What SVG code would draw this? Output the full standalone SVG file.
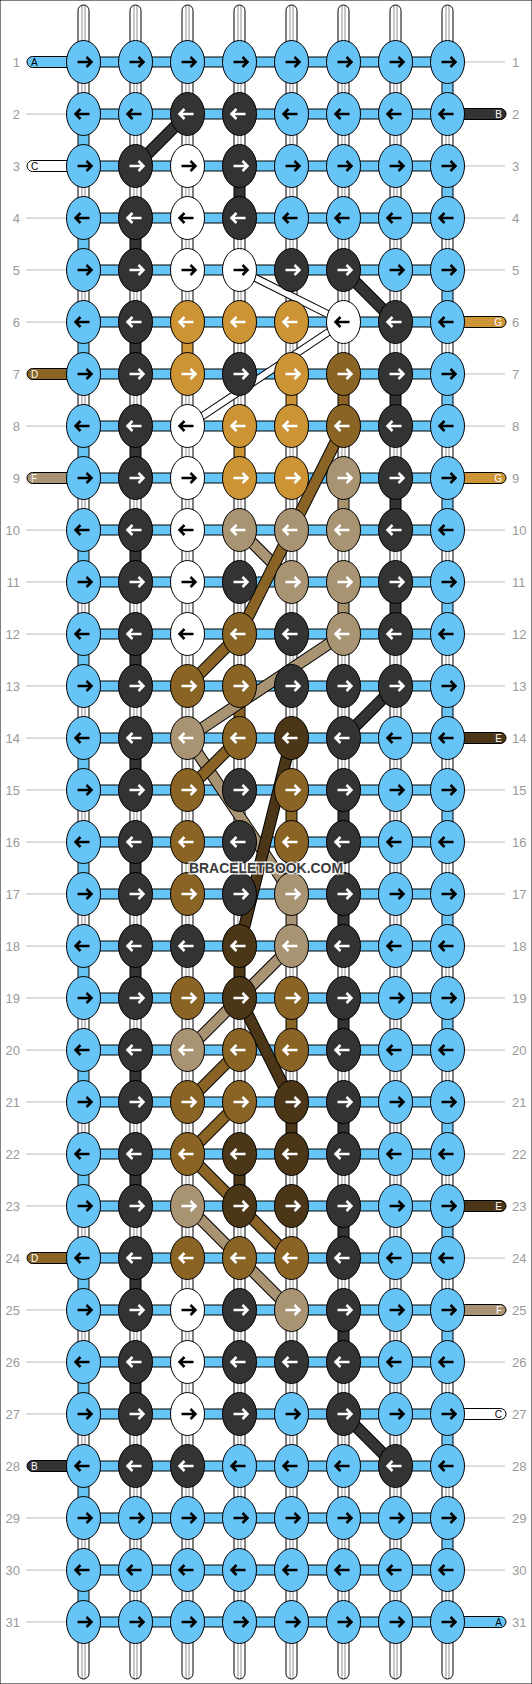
<svg xmlns="http://www.w3.org/2000/svg" xmlns:xlink="http://www.w3.org/1999/xlink" width="532" height="1684" viewBox="0 0 532 1684">
<style>
text{font-family:"Liberation Sans",Arial,sans-serif}
.num{font-size:13px;fill:#999}
.gl{stroke:#bbb;stroke-width:1}
rect,ellipse{stroke:#000;stroke-width:1}
.B{fill:#66c4f6}.K{fill:#333}.W{fill:#fff}.O{fill:#cc9434}.M{fill:#8a6424}.T{fill:#a89373}.D{fill:#4b3717}
.s{fill:url(#wg)}
.k{stroke:#000}.w{stroke:#fff}
.o{stroke:#000;stroke-width:12}
.ow{stroke:#000;stroke-width:8}
.cK{stroke:#333;stroke-width:10}.cM{stroke:#8a6424;stroke-width:10}.cT{stroke:#a89373;stroke-width:10}.cD{stroke:#4b3717;stroke-width:10}.cW{stroke:#fff;stroke-width:6}
.sl{font-size:10px}
.lw{fill:#fff}.lk{fill:#000}
</style>
<defs>
<linearGradient id="wg" x1="0" x2="1" y1="0" y2="0">
<stop offset="0" stop-color="#fff"/><stop offset=".3" stop-color="#fff"/><stop offset=".3" stop-color="#c8c8c8"/><stop offset=".42" stop-color="#c8c8c8"/><stop offset=".42" stop-color="#fff"/><stop offset=".58" stop-color="#fff"/><stop offset=".58" stop-color="#c8c8c8"/><stop offset=".7" stop-color="#c8c8c8"/><stop offset=".7" stop-color="#fff"/><stop offset="1" stop-color="#fff"/>
</linearGradient>
<path id="R" d="M-6,0H8M3,-5L8,0L3,5" fill="none" stroke-width="2.5"/>
<path id="L" d="M6,0H-8M-3,-5L-8,0L-3,5" fill="none" stroke-width="2.5"/>
</defs>
<rect x="0" y="0" width="532" height="1684" fill="#fff" stroke="none"/>

<g id="row-labels">
<text class="num" x="20" y="66.5" text-anchor="end">1</text><text class="num" x="512" y="66.5">1</text>
<text class="num" x="20" y="118.5" text-anchor="end">2</text><text class="num" x="512" y="118.5">2</text>
<text class="num" x="20" y="170.5" text-anchor="end">3</text><text class="num" x="512" y="170.5">3</text>
<text class="num" x="20" y="222.5" text-anchor="end">4</text><text class="num" x="512" y="222.5">4</text>
<text class="num" x="20" y="274.5" text-anchor="end">5</text><text class="num" x="512" y="274.5">5</text>
<text class="num" x="20" y="326.5" text-anchor="end">6</text><text class="num" x="512" y="326.5">6</text>
<text class="num" x="20" y="378.5" text-anchor="end">7</text><text class="num" x="512" y="378.5">7</text>
<text class="num" x="20" y="430.5" text-anchor="end">8</text><text class="num" x="512" y="430.5">8</text>
<text class="num" x="20" y="482.5" text-anchor="end">9</text><text class="num" x="512" y="482.5">9</text>
<text class="num" x="20" y="534.5" text-anchor="end">10</text><text class="num" x="512" y="534.5">10</text>
<text class="num" x="20" y="586.5" text-anchor="end">11</text><text class="num" x="512" y="586.5">11</text>
<text class="num" x="20" y="638.5" text-anchor="end">12</text><text class="num" x="512" y="638.5">12</text>
<text class="num" x="20" y="690.5" text-anchor="end">13</text><text class="num" x="512" y="690.5">13</text>
<text class="num" x="20" y="742.5" text-anchor="end">14</text><text class="num" x="512" y="742.5">14</text>
<text class="num" x="20" y="794.5" text-anchor="end">15</text><text class="num" x="512" y="794.5">15</text>
<text class="num" x="20" y="846.5" text-anchor="end">16</text><text class="num" x="512" y="846.5">16</text>
<text class="num" x="20" y="898.5" text-anchor="end">17</text><text class="num" x="512" y="898.5">17</text>
<text class="num" x="20" y="950.5" text-anchor="end">18</text><text class="num" x="512" y="950.5">18</text>
<text class="num" x="20" y="1002.5" text-anchor="end">19</text><text class="num" x="512" y="1002.5">19</text>
<text class="num" x="20" y="1054.5" text-anchor="end">20</text><text class="num" x="512" y="1054.5">20</text>
<text class="num" x="20" y="1106.5" text-anchor="end">21</text><text class="num" x="512" y="1106.5">21</text>
<text class="num" x="20" y="1158.5" text-anchor="end">22</text><text class="num" x="512" y="1158.5">22</text>
<text class="num" x="20" y="1210.5" text-anchor="end">23</text><text class="num" x="512" y="1210.5">23</text>
<text class="num" x="20" y="1262.5" text-anchor="end">24</text><text class="num" x="512" y="1262.5">24</text>
<text class="num" x="20" y="1314.5" text-anchor="end">25</text><text class="num" x="512" y="1314.5">25</text>
<text class="num" x="20" y="1366.5" text-anchor="end">26</text><text class="num" x="512" y="1366.5">26</text>
<text class="num" x="20" y="1418.5" text-anchor="end">27</text><text class="num" x="512" y="1418.5">27</text>
<text class="num" x="20" y="1470.5" text-anchor="end">28</text><text class="num" x="512" y="1470.5">28</text>
<text class="num" x="20" y="1522.5" text-anchor="end">29</text><text class="num" x="512" y="1522.5">29</text>
<text class="num" x="20" y="1574.5" text-anchor="end">30</text><text class="num" x="512" y="1574.5">30</text>
<text class="num" x="20" y="1626.5" text-anchor="end">31</text><text class="num" x="512" y="1626.5">31</text>
</g>
<g id="guide-lines" class="gl">
<line x1="26" x2="66" y1="114" y2="114"/><line x1="26" x2="66" y1="218" y2="218"/><line x1="26" x2="66" y1="270" y2="270"/><line x1="26" x2="66" y1="322" y2="322"/><line x1="26" x2="66" y1="426" y2="426"/><line x1="26" x2="66" y1="530" y2="530"/><line x1="26" x2="66" y1="582" y2="582"/><line x1="26" x2="66" y1="634" y2="634"/><line x1="26" x2="66" y1="686" y2="686"/><line x1="26" x2="66" y1="738" y2="738"/><line x1="26" x2="66" y1="790" y2="790"/><line x1="26" x2="66" y1="842" y2="842"/><line x1="26" x2="66" y1="894" y2="894"/><line x1="26" x2="66" y1="946" y2="946"/><line x1="26" x2="66" y1="998" y2="998"/><line x1="26" x2="66" y1="1050" y2="1050"/><line x1="26" x2="66" y1="1102" y2="1102"/><line x1="26" x2="66" y1="1154" y2="1154"/><line x1="26" x2="66" y1="1206" y2="1206"/><line x1="26" x2="66" y1="1310" y2="1310"/><line x1="26" x2="66" y1="1362" y2="1362"/><line x1="26" x2="66" y1="1414" y2="1414"/><line x1="26" x2="66" y1="1518" y2="1518"/><line x1="26" x2="66" y1="1570" y2="1570"/><line x1="26" x2="66" y1="1622" y2="1622"/>
<line x1="465" x2="505" y1="62" y2="62"/><line x1="465" x2="505" y1="166" y2="166"/><line x1="465" x2="505" y1="218" y2="218"/><line x1="465" x2="505" y1="270" y2="270"/><line x1="465" x2="505" y1="374" y2="374"/><line x1="465" x2="505" y1="426" y2="426"/><line x1="465" x2="505" y1="530" y2="530"/><line x1="465" x2="505" y1="582" y2="582"/><line x1="465" x2="505" y1="634" y2="634"/><line x1="465" x2="505" y1="686" y2="686"/><line x1="465" x2="505" y1="790" y2="790"/><line x1="465" x2="505" y1="842" y2="842"/><line x1="465" x2="505" y1="894" y2="894"/><line x1="465" x2="505" y1="946" y2="946"/><line x1="465" x2="505" y1="998" y2="998"/><line x1="465" x2="505" y1="1050" y2="1050"/><line x1="465" x2="505" y1="1102" y2="1102"/><line x1="465" x2="505" y1="1154" y2="1154"/><line x1="465" x2="505" y1="1258" y2="1258"/><line x1="465" x2="505" y1="1362" y2="1362"/><line x1="465" x2="505" y1="1466" y2="1466"/><line x1="465" x2="505" y1="1518" y2="1518"/><line x1="465" x2="505" y1="1570" y2="1570"/>
</g>

<g id="connectors">
<g id="strand-ends">
<rect class="s" x="78" y="5" width="11" height="70" rx="5.5"/><rect class="s" x="130" y="5" width="11" height="70" rx="5.5"/><rect class="s" x="182" y="5" width="11" height="70" rx="5.5"/><rect class="s" x="234" y="5" width="11" height="70" rx="5.5"/><rect class="s" x="286" y="5" width="11" height="70" rx="5.5"/><rect class="s" x="338" y="5" width="11" height="70" rx="5.5"/><rect class="s" x="390" y="5" width="11" height="70" rx="5.5"/><rect class="s" x="442" y="5" width="11" height="70" rx="5.5"/>
<rect class="s" x="78" y="1609" width="11" height="70" rx="5.5"/><rect class="s" x="130" y="1609" width="11" height="70" rx="5.5"/><rect class="s" x="182" y="1609" width="11" height="70" rx="5.5"/><rect class="s" x="234" y="1609" width="11" height="70" rx="5.5"/><rect class="s" x="286" y="1609" width="11" height="70" rx="5.5"/><rect class="s" x="338" y="1609" width="11" height="70" rx="5.5"/><rect class="s" x="390" y="1609" width="11" height="70" rx="5.5"/><rect class="s" x="442" y="1609" width="11" height="70" rx="5.5"/>
</g>
<g id="vertical-strands">
<rect class="s" x="78" y="62" width="11" height="52"/><rect class="s" x="130" y="62" width="11" height="52"/><rect class="s" x="182" y="62" width="11" height="52"/><rect class="s" x="234" y="62" width="11" height="52"/><rect class="s" x="286" y="62" width="11" height="52"/><rect class="s" x="338" y="62" width="11" height="52"/><rect class="s" x="390" y="62" width="11" height="52"/><rect class="B" x="442" y="62" width="11" height="52"/>
<rect class="B" x="78" y="114" width="11" height="52"/><rect class="s" x="130" y="114" width="11" height="52"/><rect class="s" x="182" y="114" width="11" height="52"/><rect class="s" x="234" y="114" width="11" height="52"/><rect class="s" x="286" y="114" width="11" height="52"/><rect class="s" x="338" y="114" width="11" height="52"/><rect class="s" x="390" y="114" width="11" height="52"/><rect class="s" x="442" y="114" width="11" height="52"/>
<rect class="s" x="78" y="166" width="11" height="52"/><rect class="s" x="130" y="166" width="11" height="52"/><rect class="s" x="182" y="166" width="11" height="52"/><rect class="K" x="234" y="166" width="11" height="52"/><rect class="s" x="286" y="166" width="11" height="52"/><rect class="s" x="338" y="166" width="11" height="52"/><rect class="s" x="390" y="166" width="11" height="52"/><rect class="B" x="442" y="166" width="11" height="52"/>
<rect class="B" x="78" y="218" width="11" height="52"/><rect class="K" x="130" y="218" width="11" height="52"/><rect class="s" x="182" y="218" width="11" height="52"/><rect class="s" x="234" y="218" width="11" height="52"/><rect class="s" x="286" y="218" width="11" height="52"/><rect class="s" x="338" y="218" width="11" height="52"/><rect class="s" x="390" y="218" width="11" height="52"/><rect class="s" x="442" y="218" width="11" height="52"/>
<rect class="s" x="78" y="270" width="11" height="52"/><rect class="s" x="130" y="270" width="11" height="52"/><rect class="s" x="182" y="270" width="11" height="52"/><rect class="s" x="234" y="270" width="11" height="52"/><rect class="s" x="286" y="270" width="11" height="52"/><rect class="s" x="338" y="270" width="11" height="52"/><rect class="s" x="390" y="270" width="11" height="52"/><rect class="B" x="442" y="270" width="11" height="52"/>
<rect class="B" x="78" y="322" width="11" height="52"/><rect class="K" x="130" y="322" width="11" height="52"/><rect class="O" x="182" y="322" width="11" height="52"/><rect class="s" x="234" y="322" width="11" height="52"/><rect class="s" x="286" y="322" width="11" height="52"/><rect class="s" x="338" y="322" width="11" height="52"/><rect class="s" x="390" y="322" width="11" height="52"/><rect class="s" x="442" y="322" width="11" height="52"/>
<rect class="s" x="78" y="374" width="11" height="52"/><rect class="s" x="130" y="374" width="11" height="52"/><rect class="s" x="182" y="374" width="11" height="52"/><rect class="s" x="234" y="374" width="11" height="52"/><rect class="O" x="286" y="374" width="11" height="52"/><rect class="M" x="338" y="374" width="11" height="52"/><rect class="K" x="390" y="374" width="11" height="52"/><rect class="B" x="442" y="374" width="11" height="52"/>
<rect class="B" x="78" y="426" width="11" height="52"/><rect class="K" x="130" y="426" width="11" height="52"/><rect class="s" x="182" y="426" width="11" height="52"/><rect class="O" x="234" y="426" width="11" height="52"/><rect class="s" x="286" y="426" width="11" height="52"/><rect class="s" x="338" y="426" width="11" height="52"/><rect class="s" x="390" y="426" width="11" height="52"/><rect class="s" x="442" y="426" width="11" height="52"/>
<rect class="s" x="78" y="478" width="11" height="52"/><rect class="s" x="130" y="478" width="11" height="52"/><rect class="s" x="182" y="478" width="11" height="52"/><rect class="s" x="234" y="478" width="11" height="52"/><rect class="s" x="286" y="478" width="11" height="52"/><rect class="T" x="338" y="478" width="11" height="52"/><rect class="K" x="390" y="478" width="11" height="52"/><rect class="B" x="442" y="478" width="11" height="52"/>
<rect class="B" x="78" y="530" width="11" height="52"/><rect class="K" x="130" y="530" width="11" height="52"/><rect class="s" x="182" y="530" width="11" height="52"/><rect class="s" x="234" y="530" width="11" height="52"/><rect class="s" x="286" y="530" width="11" height="52"/><rect class="s" x="338" y="530" width="11" height="52"/><rect class="s" x="390" y="530" width="11" height="52"/><rect class="s" x="442" y="530" width="11" height="52"/>
<rect class="s" x="78" y="582" width="11" height="52"/><rect class="s" x="130" y="582" width="11" height="52"/><rect class="s" x="182" y="582" width="11" height="52"/><rect class="s" x="234" y="582" width="11" height="52"/><rect class="s" x="286" y="582" width="11" height="52"/><rect class="T" x="338" y="582" width="11" height="52"/><rect class="K" x="390" y="582" width="11" height="52"/><rect class="B" x="442" y="582" width="11" height="52"/>
<rect class="B" x="78" y="634" width="11" height="52"/><rect class="K" x="130" y="634" width="11" height="52"/><rect class="s" x="182" y="634" width="11" height="52"/><rect class="s" x="234" y="634" width="11" height="52"/><rect class="s" x="286" y="634" width="11" height="52"/><rect class="s" x="338" y="634" width="11" height="52"/><rect class="s" x="390" y="634" width="11" height="52"/><rect class="s" x="442" y="634" width="11" height="52"/>
<rect class="s" x="78" y="686" width="11" height="52"/><rect class="s" x="130" y="686" width="11" height="52"/><rect class="s" x="182" y="686" width="11" height="52"/><rect class="M" x="234" y="686" width="11" height="52"/><rect class="s" x="286" y="686" width="11" height="52"/><rect class="s" x="338" y="686" width="11" height="52"/><rect class="s" x="390" y="686" width="11" height="52"/><rect class="B" x="442" y="686" width="11" height="52"/>
<rect class="B" x="78" y="738" width="11" height="52"/><rect class="K" x="130" y="738" width="11" height="52"/><rect class="s" x="182" y="738" width="11" height="52"/><rect class="s" x="234" y="738" width="11" height="52"/><rect class="s" x="286" y="738" width="11" height="52"/><rect class="s" x="338" y="738" width="11" height="52"/><rect class="s" x="390" y="738" width="11" height="52"/><rect class="s" x="442" y="738" width="11" height="52"/>
<rect class="s" x="78" y="790" width="11" height="52"/><rect class="s" x="130" y="790" width="11" height="52"/><rect class="s" x="182" y="790" width="11" height="52"/><rect class="s" x="234" y="790" width="11" height="52"/><rect class="M" x="286" y="790" width="11" height="52"/><rect class="K" x="338" y="790" width="11" height="52"/><rect class="s" x="390" y="790" width="11" height="52"/><rect class="B" x="442" y="790" width="11" height="52"/>
<rect class="B" x="78" y="842" width="11" height="52"/><rect class="K" x="130" y="842" width="11" height="52"/><rect class="s" x="182" y="842" width="11" height="52"/><rect class="s" x="234" y="842" width="11" height="52"/><rect class="s" x="286" y="842" width="11" height="52"/><rect class="s" x="338" y="842" width="11" height="52"/><rect class="s" x="390" y="842" width="11" height="52"/><rect class="s" x="442" y="842" width="11" height="52"/>
<rect class="s" x="78" y="894" width="11" height="52"/><rect class="s" x="130" y="894" width="11" height="52"/><rect class="s" x="182" y="894" width="11" height="52"/><rect class="s" x="234" y="894" width="11" height="52"/><rect class="T" x="286" y="894" width="11" height="52"/><rect class="K" x="338" y="894" width="11" height="52"/><rect class="s" x="390" y="894" width="11" height="52"/><rect class="B" x="442" y="894" width="11" height="52"/>
<rect class="B" x="78" y="946" width="11" height="52"/><rect class="K" x="130" y="946" width="11" height="52"/><rect class="s" x="182" y="946" width="11" height="52"/><rect class="D" x="234" y="946" width="11" height="52"/><rect class="s" x="286" y="946" width="11" height="52"/><rect class="s" x="338" y="946" width="11" height="52"/><rect class="s" x="390" y="946" width="11" height="52"/><rect class="s" x="442" y="946" width="11" height="52"/>
<rect class="s" x="78" y="998" width="11" height="52"/><rect class="s" x="130" y="998" width="11" height="52"/><rect class="s" x="182" y="998" width="11" height="52"/><rect class="s" x="234" y="998" width="11" height="52"/><rect class="M" x="286" y="998" width="11" height="52"/><rect class="K" x="338" y="998" width="11" height="52"/><rect class="s" x="390" y="998" width="11" height="52"/><rect class="B" x="442" y="998" width="11" height="52"/>
<rect class="B" x="78" y="1050" width="11" height="52"/><rect class="K" x="130" y="1050" width="11" height="52"/><rect class="s" x="182" y="1050" width="11" height="52"/><rect class="s" x="234" y="1050" width="11" height="52"/><rect class="s" x="286" y="1050" width="11" height="52"/><rect class="s" x="338" y="1050" width="11" height="52"/><rect class="s" x="390" y="1050" width="11" height="52"/><rect class="s" x="442" y="1050" width="11" height="52"/>
<rect class="s" x="78" y="1102" width="11" height="52"/><rect class="s" x="130" y="1102" width="11" height="52"/><rect class="s" x="182" y="1102" width="11" height="52"/><rect class="s" x="234" y="1102" width="11" height="52"/><rect class="D" x="286" y="1102" width="11" height="52"/><rect class="K" x="338" y="1102" width="11" height="52"/><rect class="s" x="390" y="1102" width="11" height="52"/><rect class="B" x="442" y="1102" width="11" height="52"/>
<rect class="B" x="78" y="1154" width="11" height="52"/><rect class="K" x="130" y="1154" width="11" height="52"/><rect class="s" x="182" y="1154" width="11" height="52"/><rect class="D" x="234" y="1154" width="11" height="52"/><rect class="s" x="286" y="1154" width="11" height="52"/><rect class="s" x="338" y="1154" width="11" height="52"/><rect class="s" x="390" y="1154" width="11" height="52"/><rect class="s" x="442" y="1154" width="11" height="52"/>
<rect class="s" x="78" y="1206" width="11" height="52"/><rect class="s" x="130" y="1206" width="11" height="52"/><rect class="s" x="182" y="1206" width="11" height="52"/><rect class="s" x="234" y="1206" width="11" height="52"/><rect class="s" x="286" y="1206" width="11" height="52"/><rect class="K" x="338" y="1206" width="11" height="52"/><rect class="s" x="390" y="1206" width="11" height="52"/><rect class="B" x="442" y="1206" width="11" height="52"/>
<rect class="B" x="78" y="1258" width="11" height="52"/><rect class="K" x="130" y="1258" width="11" height="52"/><rect class="s" x="182" y="1258" width="11" height="52"/><rect class="s" x="234" y="1258" width="11" height="52"/><rect class="s" x="286" y="1258" width="11" height="52"/><rect class="s" x="338" y="1258" width="11" height="52"/><rect class="s" x="390" y="1258" width="11" height="52"/><rect class="s" x="442" y="1258" width="11" height="52"/>
<rect class="s" x="78" y="1310" width="11" height="52"/><rect class="s" x="130" y="1310" width="11" height="52"/><rect class="s" x="182" y="1310" width="11" height="52"/><rect class="s" x="234" y="1310" width="11" height="52"/><rect class="s" x="286" y="1310" width="11" height="52"/><rect class="K" x="338" y="1310" width="11" height="52"/><rect class="s" x="390" y="1310" width="11" height="52"/><rect class="B" x="442" y="1310" width="11" height="52"/>
<rect class="B" x="78" y="1362" width="11" height="52"/><rect class="K" x="130" y="1362" width="11" height="52"/><rect class="s" x="182" y="1362" width="11" height="52"/><rect class="s" x="234" y="1362" width="11" height="52"/><rect class="s" x="286" y="1362" width="11" height="52"/><rect class="s" x="338" y="1362" width="11" height="52"/><rect class="s" x="390" y="1362" width="11" height="52"/><rect class="s" x="442" y="1362" width="11" height="52"/>
<rect class="s" x="78" y="1414" width="11" height="52"/><rect class="s" x="130" y="1414" width="11" height="52"/><rect class="s" x="182" y="1414" width="11" height="52"/><rect class="s" x="234" y="1414" width="11" height="52"/><rect class="s" x="286" y="1414" width="11" height="52"/><rect class="s" x="338" y="1414" width="11" height="52"/><rect class="s" x="390" y="1414" width="11" height="52"/><rect class="B" x="442" y="1414" width="11" height="52"/>
<rect class="B" x="78" y="1466" width="11" height="52"/><rect class="s" x="130" y="1466" width="11" height="52"/><rect class="s" x="182" y="1466" width="11" height="52"/><rect class="s" x="234" y="1466" width="11" height="52"/><rect class="s" x="286" y="1466" width="11" height="52"/><rect class="s" x="338" y="1466" width="11" height="52"/><rect class="s" x="390" y="1466" width="11" height="52"/><rect class="s" x="442" y="1466" width="11" height="52"/>
<rect class="s" x="78" y="1518" width="11" height="52"/><rect class="s" x="130" y="1518" width="11" height="52"/><rect class="s" x="182" y="1518" width="11" height="52"/><rect class="s" x="234" y="1518" width="11" height="52"/><rect class="s" x="286" y="1518" width="11" height="52"/><rect class="s" x="338" y="1518" width="11" height="52"/><rect class="s" x="390" y="1518" width="11" height="52"/><rect class="B" x="442" y="1518" width="11" height="52"/>
<rect class="B" x="78" y="1570" width="11" height="52"/><rect class="s" x="130" y="1570" width="11" height="52"/><rect class="s" x="182" y="1570" width="11" height="52"/><rect class="s" x="234" y="1570" width="11" height="52"/><rect class="s" x="286" y="1570" width="11" height="52"/><rect class="s" x="338" y="1570" width="11" height="52"/><rect class="s" x="390" y="1570" width="11" height="52"/><rect class="s" x="442" y="1570" width="11" height="52"/>
</g>
<g id="horizontal-strands">
<rect class="B" x="83.5" y="57" width="364" height="10"/><rect class="B" x="83.5" y="109" width="364" height="10"/><rect class="B" x="83.5" y="161" width="364" height="10"/><rect class="B" x="83.5" y="213" width="364" height="10"/><rect class="B" x="83.5" y="265" width="364" height="10"/><rect class="B" x="83.5" y="317" width="364" height="10"/><rect class="B" x="83.5" y="369" width="364" height="10"/><rect class="B" x="83.5" y="421" width="364" height="10"/><rect class="B" x="83.5" y="473" width="364" height="10"/><rect class="B" x="83.5" y="525" width="364" height="10"/><rect class="B" x="83.5" y="577" width="364" height="10"/><rect class="B" x="83.5" y="629" width="364" height="10"/><rect class="B" x="83.5" y="681" width="364" height="10"/><rect class="B" x="83.5" y="733" width="364" height="10"/><rect class="B" x="83.5" y="785" width="364" height="10"/><rect class="B" x="83.5" y="837" width="364" height="10"/><rect class="B" x="83.5" y="889" width="364" height="10"/><rect class="B" x="83.5" y="941" width="364" height="10"/><rect class="B" x="83.5" y="993" width="364" height="10"/><rect class="B" x="83.5" y="1045" width="364" height="10"/><rect class="B" x="83.5" y="1097" width="364" height="10"/><rect class="B" x="83.5" y="1149" width="364" height="10"/><rect class="B" x="83.5" y="1201" width="364" height="10"/><rect class="B" x="83.5" y="1253" width="364" height="10"/><rect class="B" x="83.5" y="1305" width="364" height="10"/><rect class="B" x="83.5" y="1357" width="364" height="10"/><rect class="B" x="83.5" y="1409" width="364" height="10"/><rect class="B" x="83.5" y="1461" width="364" height="10"/><rect class="B" x="83.5" y="1513" width="364" height="10"/><rect class="B" x="83.5" y="1565" width="364" height="10"/><rect class="B" x="83.5" y="1617" width="364" height="10"/>
</g>
<g id="thread-ends">
<rect class="B" x="27" y="56.5" width="50" height="11" rx="5.5"/><text class="sl lk" x="31" y="65.5">A</text>
<rect class="W" x="27" y="160.5" width="50" height="11" rx="5.5"/><text class="sl lk" x="31" y="169.5">C</text>
<rect class="M" x="27" y="368.5" width="50" height="11" rx="5.5"/><text class="sl lw" x="31" y="377.5">D</text>
<rect class="T" x="27" y="472.5" width="50" height="11" rx="5.5"/><text class="sl lw" x="31" y="481.5">F</text>
<rect class="M" x="27" y="1252.5" width="50" height="11" rx="5.5"/><text class="sl lw" x="31" y="1261.5">D</text>
<rect class="K" x="27" y="1460.5" width="50" height="11" rx="5.5"/><text class="sl lw" x="31" y="1469.5">B</text>
<rect class="K" x="455" y="108.5" width="51" height="11" rx="5.5"/><text class="sl lw" x="502" y="117.5" text-anchor="end">B</text>
<rect class="O" x="455" y="316.5" width="51" height="11" rx="5.5"/><text class="sl lw" x="502" y="325.5" text-anchor="end">G</text>
<rect class="O" x="455" y="472.5" width="51" height="11" rx="5.5"/><text class="sl lw" x="502" y="481.5" text-anchor="end">G</text>
<rect class="D" x="455" y="732.5" width="51" height="11" rx="5.5"/><text class="sl lw" x="502" y="741.5" text-anchor="end">E</text>
<rect class="D" x="455" y="1200.5" width="51" height="11" rx="5.5"/><text class="sl lw" x="502" y="1209.5" text-anchor="end">E</text>
<rect class="T" x="455" y="1304.5" width="51" height="11" rx="5.5"/><text class="sl lw" x="502" y="1313.5" text-anchor="end">F</text>
<rect class="W" x="455" y="1408.5" width="51" height="11" rx="5.5"/><text class="sl lk" x="502" y="1417.5" text-anchor="end">C</text>
<rect class="B" x="455" y="1616.5" width="51" height="11" rx="5.5"/><text class="sl lk" x="502" y="1625.5" text-anchor="end">A</text>
</g>
<g id="diagonals">
<line class="o" x1="239.5" y1="530" x2="291.5" y2="582"/><line class="cT" x1="239.5" y1="530" x2="291.5" y2="582"/>
<line class="o" x1="343.5" y1="634" x2="187.5" y2="738"/><line class="cT" x1="343.5" y1="634" x2="187.5" y2="738"/>
<line class="o" x1="187.5" y1="738" x2="291.5" y2="894"/><line class="cT" x1="187.5" y1="738" x2="291.5" y2="894"/>
<line class="o" x1="291.5" y1="946" x2="187.5" y2="1050"/><line class="cT" x1="291.5" y1="946" x2="187.5" y2="1050"/>
<line class="o" x1="187.5" y1="1206" x2="291.5" y2="1310"/><line class="cT" x1="187.5" y1="1206" x2="291.5" y2="1310"/>
<line class="o" x1="343.5" y1="426" x2="239.5" y2="634"/><line class="cM" x1="343.5" y1="426" x2="239.5" y2="634"/>
<line class="o" x1="239.5" y1="634" x2="187.5" y2="686"/><line class="cM" x1="239.5" y1="634" x2="187.5" y2="686"/>
<line class="o" x1="239.5" y1="738" x2="187.5" y2="790"/><line class="cM" x1="239.5" y1="738" x2="187.5" y2="790"/>
<line class="o" x1="239.5" y1="1050" x2="187.5" y2="1102"/><line class="cM" x1="239.5" y1="1050" x2="187.5" y2="1102"/>
<line class="o" x1="239.5" y1="1102" x2="187.5" y2="1154"/><line class="cM" x1="239.5" y1="1102" x2="187.5" y2="1154"/>
<line class="o" x1="187.5" y1="1154" x2="291.5" y2="1258"/><line class="cM" x1="187.5" y1="1154" x2="291.5" y2="1258"/>
<line class="o" x1="291.5" y1="738" x2="239.5" y2="946"/><line class="cD" x1="291.5" y1="738" x2="239.5" y2="946"/>
<line class="o" x1="239.5" y1="998" x2="291.5" y2="1102"/><line class="cD" x1="239.5" y1="998" x2="291.5" y2="1102"/>
<line class="o" x1="187.5" y1="114" x2="135.5" y2="166"/><line class="cK" x1="187.5" y1="114" x2="135.5" y2="166"/>
<line class="o" x1="343.5" y1="270" x2="395.5" y2="322"/><line class="cK" x1="343.5" y1="270" x2="395.5" y2="322"/>
<line class="o" x1="395.5" y1="686" x2="343.5" y2="738"/><line class="cK" x1="395.5" y1="686" x2="343.5" y2="738"/>
<line class="o" x1="343.5" y1="1414" x2="395.5" y2="1466"/><line class="cK" x1="343.5" y1="1414" x2="395.5" y2="1466"/>
<line class="ow" x1="239.5" y1="270" x2="343.5" y2="322"/><line class="cW" x1="239.5" y1="270" x2="343.5" y2="322"/>
<line class="ow" x1="343.5" y1="322" x2="187.5" y2="426"/><line class="cW" x1="343.5" y1="322" x2="187.5" y2="426"/>
</g>
</g>

<g id="nodes">
<g id="n1-1"><ellipse class="B" cx="83.5" cy="62" rx="17" ry="21.5"/><use href="#R" x="83.5" y="62" class="k"/></g>
<g id="n1-2"><ellipse class="B" cx="135.5" cy="62" rx="17" ry="21.5"/><use href="#R" x="135.5" y="62" class="k"/></g>
<g id="n1-3"><ellipse class="B" cx="187.5" cy="62" rx="17" ry="21.5"/><use href="#R" x="187.5" y="62" class="k"/></g>
<g id="n1-4"><ellipse class="B" cx="239.5" cy="62" rx="17" ry="21.5"/><use href="#R" x="239.5" y="62" class="k"/></g>
<g id="n1-5"><ellipse class="B" cx="291.5" cy="62" rx="17" ry="21.5"/><use href="#R" x="291.5" y="62" class="k"/></g>
<g id="n1-6"><ellipse class="B" cx="343.5" cy="62" rx="17" ry="21.5"/><use href="#R" x="343.5" y="62" class="k"/></g>
<g id="n1-7"><ellipse class="B" cx="395.5" cy="62" rx="17" ry="21.5"/><use href="#R" x="395.5" y="62" class="k"/></g>
<g id="n1-8"><ellipse class="B" cx="447.5" cy="62" rx="17" ry="21.5"/><use href="#R" x="447.5" y="62" class="k"/></g>
<g id="n2-1"><ellipse class="B" cx="83.5" cy="114" rx="17" ry="21.5"/><use href="#L" x="83.5" y="114" class="k"/></g>
<g id="n2-2"><ellipse class="B" cx="135.5" cy="114" rx="17" ry="21.5"/><use href="#L" x="135.5" y="114" class="k"/></g>
<g id="n2-3"><ellipse class="K" cx="187.5" cy="114" rx="17" ry="21.5"/><use href="#L" x="187.5" y="114" class="w"/></g>
<g id="n2-4"><ellipse class="K" cx="239.5" cy="114" rx="17" ry="21.5"/><use href="#L" x="239.5" y="114" class="w"/></g>
<g id="n2-5"><ellipse class="B" cx="291.5" cy="114" rx="17" ry="21.5"/><use href="#L" x="291.5" y="114" class="k"/></g>
<g id="n2-6"><ellipse class="B" cx="343.5" cy="114" rx="17" ry="21.5"/><use href="#L" x="343.5" y="114" class="k"/></g>
<g id="n2-7"><ellipse class="B" cx="395.5" cy="114" rx="17" ry="21.5"/><use href="#L" x="395.5" y="114" class="k"/></g>
<g id="n2-8"><ellipse class="B" cx="447.5" cy="114" rx="17" ry="21.5"/><use href="#L" x="447.5" y="114" class="k"/></g>
<g id="n3-1"><ellipse class="B" cx="83.5" cy="166" rx="17" ry="21.5"/><use href="#R" x="83.5" y="166" class="k"/></g>
<g id="n3-2"><ellipse class="K" cx="135.5" cy="166" rx="17" ry="21.5"/><use href="#R" x="135.5" y="166" class="w"/></g>
<g id="n3-3"><ellipse class="W" cx="187.5" cy="166" rx="17" ry="21.5"/><use href="#R" x="187.5" y="166" class="k"/></g>
<g id="n3-4"><ellipse class="K" cx="239.5" cy="166" rx="17" ry="21.5"/><use href="#R" x="239.5" y="166" class="w"/></g>
<g id="n3-5"><ellipse class="B" cx="291.5" cy="166" rx="17" ry="21.5"/><use href="#R" x="291.5" y="166" class="k"/></g>
<g id="n3-6"><ellipse class="B" cx="343.5" cy="166" rx="17" ry="21.5"/><use href="#R" x="343.5" y="166" class="k"/></g>
<g id="n3-7"><ellipse class="B" cx="395.5" cy="166" rx="17" ry="21.5"/><use href="#R" x="395.5" y="166" class="k"/></g>
<g id="n3-8"><ellipse class="B" cx="447.5" cy="166" rx="17" ry="21.5"/><use href="#R" x="447.5" y="166" class="k"/></g>
<g id="n4-1"><ellipse class="B" cx="83.5" cy="218" rx="17" ry="21.5"/><use href="#L" x="83.5" y="218" class="k"/></g>
<g id="n4-2"><ellipse class="K" cx="135.5" cy="218" rx="17" ry="21.5"/><use href="#L" x="135.5" y="218" class="w"/></g>
<g id="n4-3"><ellipse class="W" cx="187.5" cy="218" rx="17" ry="21.5"/><use href="#L" x="187.5" y="218" class="k"/></g>
<g id="n4-4"><ellipse class="K" cx="239.5" cy="218" rx="17" ry="21.5"/><use href="#L" x="239.5" y="218" class="w"/></g>
<g id="n4-5"><ellipse class="B" cx="291.5" cy="218" rx="17" ry="21.5"/><use href="#L" x="291.5" y="218" class="k"/></g>
<g id="n4-6"><ellipse class="B" cx="343.5" cy="218" rx="17" ry="21.5"/><use href="#L" x="343.5" y="218" class="k"/></g>
<g id="n4-7"><ellipse class="B" cx="395.5" cy="218" rx="17" ry="21.5"/><use href="#L" x="395.5" y="218" class="k"/></g>
<g id="n4-8"><ellipse class="B" cx="447.5" cy="218" rx="17" ry="21.5"/><use href="#L" x="447.5" y="218" class="k"/></g>
<g id="n5-1"><ellipse class="B" cx="83.5" cy="270" rx="17" ry="21.5"/><use href="#R" x="83.5" y="270" class="k"/></g>
<g id="n5-2"><ellipse class="K" cx="135.5" cy="270" rx="17" ry="21.5"/><use href="#R" x="135.5" y="270" class="w"/></g>
<g id="n5-3"><ellipse class="W" cx="187.5" cy="270" rx="17" ry="21.5"/><use href="#R" x="187.5" y="270" class="k"/></g>
<g id="n5-4"><ellipse class="W" cx="239.5" cy="270" rx="17" ry="21.5"/><use href="#R" x="239.5" y="270" class="k"/></g>
<g id="n5-5"><ellipse class="K" cx="291.5" cy="270" rx="17" ry="21.5"/><use href="#R" x="291.5" y="270" class="w"/></g>
<g id="n5-6"><ellipse class="K" cx="343.5" cy="270" rx="17" ry="21.5"/><use href="#R" x="343.5" y="270" class="w"/></g>
<g id="n5-7"><ellipse class="B" cx="395.5" cy="270" rx="17" ry="21.5"/><use href="#R" x="395.5" y="270" class="k"/></g>
<g id="n5-8"><ellipse class="B" cx="447.5" cy="270" rx="17" ry="21.5"/><use href="#R" x="447.5" y="270" class="k"/></g>
<g id="n6-1"><ellipse class="B" cx="83.5" cy="322" rx="17" ry="21.5"/><use href="#L" x="83.5" y="322" class="k"/></g>
<g id="n6-2"><ellipse class="K" cx="135.5" cy="322" rx="17" ry="21.5"/><use href="#L" x="135.5" y="322" class="w"/></g>
<g id="n6-3"><ellipse class="O" cx="187.5" cy="322" rx="17" ry="21.5"/><use href="#L" x="187.5" y="322" class="w"/></g>
<g id="n6-4"><ellipse class="O" cx="239.5" cy="322" rx="17" ry="21.5"/><use href="#L" x="239.5" y="322" class="w"/></g>
<g id="n6-5"><ellipse class="O" cx="291.5" cy="322" rx="17" ry="21.5"/><use href="#L" x="291.5" y="322" class="w"/></g>
<g id="n6-6"><ellipse class="W" cx="343.5" cy="322" rx="17" ry="21.5"/><use href="#L" x="343.5" y="322" class="k"/></g>
<g id="n6-7"><ellipse class="K" cx="395.5" cy="322" rx="17" ry="21.5"/><use href="#L" x="395.5" y="322" class="w"/></g>
<g id="n6-8"><ellipse class="B" cx="447.5" cy="322" rx="17" ry="21.5"/><use href="#L" x="447.5" y="322" class="k"/></g>
<g id="n7-1"><ellipse class="B" cx="83.5" cy="374" rx="17" ry="21.5"/><use href="#R" x="83.5" y="374" class="k"/></g>
<g id="n7-2"><ellipse class="K" cx="135.5" cy="374" rx="17" ry="21.5"/><use href="#R" x="135.5" y="374" class="w"/></g>
<g id="n7-3"><ellipse class="O" cx="187.5" cy="374" rx="17" ry="21.5"/><use href="#R" x="187.5" y="374" class="w"/></g>
<g id="n7-4"><ellipse class="K" cx="239.5" cy="374" rx="17" ry="21.5"/><use href="#R" x="239.5" y="374" class="w"/></g>
<g id="n7-5"><ellipse class="O" cx="291.5" cy="374" rx="17" ry="21.5"/><use href="#R" x="291.5" y="374" class="w"/></g>
<g id="n7-6"><ellipse class="M" cx="343.5" cy="374" rx="17" ry="21.5"/><use href="#R" x="343.5" y="374" class="w"/></g>
<g id="n7-7"><ellipse class="K" cx="395.5" cy="374" rx="17" ry="21.5"/><use href="#R" x="395.5" y="374" class="w"/></g>
<g id="n7-8"><ellipse class="B" cx="447.5" cy="374" rx="17" ry="21.5"/><use href="#R" x="447.5" y="374" class="k"/></g>
<g id="n8-1"><ellipse class="B" cx="83.5" cy="426" rx="17" ry="21.5"/><use href="#L" x="83.5" y="426" class="k"/></g>
<g id="n8-2"><ellipse class="K" cx="135.5" cy="426" rx="17" ry="21.5"/><use href="#L" x="135.5" y="426" class="w"/></g>
<g id="n8-3"><ellipse class="W" cx="187.5" cy="426" rx="17" ry="21.5"/><use href="#L" x="187.5" y="426" class="k"/></g>
<g id="n8-4"><ellipse class="O" cx="239.5" cy="426" rx="17" ry="21.5"/><use href="#L" x="239.5" y="426" class="w"/></g>
<g id="n8-5"><ellipse class="O" cx="291.5" cy="426" rx="17" ry="21.5"/><use href="#L" x="291.5" y="426" class="w"/></g>
<g id="n8-6"><ellipse class="M" cx="343.5" cy="426" rx="17" ry="21.5"/><use href="#L" x="343.5" y="426" class="w"/></g>
<g id="n8-7"><ellipse class="K" cx="395.5" cy="426" rx="17" ry="21.5"/><use href="#L" x="395.5" y="426" class="w"/></g>
<g id="n8-8"><ellipse class="B" cx="447.5" cy="426" rx="17" ry="21.5"/><use href="#L" x="447.5" y="426" class="k"/></g>
<g id="n9-1"><ellipse class="B" cx="83.5" cy="478" rx="17" ry="21.5"/><use href="#R" x="83.5" y="478" class="k"/></g>
<g id="n9-2"><ellipse class="K" cx="135.5" cy="478" rx="17" ry="21.5"/><use href="#R" x="135.5" y="478" class="w"/></g>
<g id="n9-3"><ellipse class="W" cx="187.5" cy="478" rx="17" ry="21.5"/><use href="#R" x="187.5" y="478" class="k"/></g>
<g id="n9-4"><ellipse class="O" cx="239.5" cy="478" rx="17" ry="21.5"/><use href="#R" x="239.5" y="478" class="w"/></g>
<g id="n9-5"><ellipse class="O" cx="291.5" cy="478" rx="17" ry="21.5"/><use href="#R" x="291.5" y="478" class="w"/></g>
<g id="n9-6"><ellipse class="T" cx="343.5" cy="478" rx="17" ry="21.5"/><use href="#R" x="343.5" y="478" class="w"/></g>
<g id="n9-7"><ellipse class="K" cx="395.5" cy="478" rx="17" ry="21.5"/><use href="#R" x="395.5" y="478" class="w"/></g>
<g id="n9-8"><ellipse class="B" cx="447.5" cy="478" rx="17" ry="21.5"/><use href="#R" x="447.5" y="478" class="k"/></g>
<g id="n10-1"><ellipse class="B" cx="83.5" cy="530" rx="17" ry="21.5"/><use href="#L" x="83.5" y="530" class="k"/></g>
<g id="n10-2"><ellipse class="K" cx="135.5" cy="530" rx="17" ry="21.5"/><use href="#L" x="135.5" y="530" class="w"/></g>
<g id="n10-3"><ellipse class="W" cx="187.5" cy="530" rx="17" ry="21.5"/><use href="#L" x="187.5" y="530" class="k"/></g>
<g id="n10-4"><ellipse class="T" cx="239.5" cy="530" rx="17" ry="21.5"/><use href="#L" x="239.5" y="530" class="w"/></g>
<g id="n10-5"><ellipse class="T" cx="291.5" cy="530" rx="17" ry="21.5"/><use href="#L" x="291.5" y="530" class="w"/></g>
<g id="n10-6"><ellipse class="T" cx="343.5" cy="530" rx="17" ry="21.5"/><use href="#L" x="343.5" y="530" class="w"/></g>
<g id="n10-7"><ellipse class="K" cx="395.5" cy="530" rx="17" ry="21.5"/><use href="#L" x="395.5" y="530" class="w"/></g>
<g id="n10-8"><ellipse class="B" cx="447.5" cy="530" rx="17" ry="21.5"/><use href="#L" x="447.5" y="530" class="k"/></g>
<g id="n11-1"><ellipse class="B" cx="83.5" cy="582" rx="17" ry="21.5"/><use href="#R" x="83.5" y="582" class="k"/></g>
<g id="n11-2"><ellipse class="K" cx="135.5" cy="582" rx="17" ry="21.5"/><use href="#R" x="135.5" y="582" class="w"/></g>
<g id="n11-3"><ellipse class="W" cx="187.5" cy="582" rx="17" ry="21.5"/><use href="#R" x="187.5" y="582" class="k"/></g>
<g id="n11-4"><ellipse class="K" cx="239.5" cy="582" rx="17" ry="21.5"/><use href="#R" x="239.5" y="582" class="w"/></g>
<g id="n11-5"><ellipse class="T" cx="291.5" cy="582" rx="17" ry="21.5"/><use href="#R" x="291.5" y="582" class="w"/></g>
<g id="n11-6"><ellipse class="T" cx="343.5" cy="582" rx="17" ry="21.5"/><use href="#R" x="343.5" y="582" class="w"/></g>
<g id="n11-7"><ellipse class="K" cx="395.5" cy="582" rx="17" ry="21.5"/><use href="#R" x="395.5" y="582" class="w"/></g>
<g id="n11-8"><ellipse class="B" cx="447.5" cy="582" rx="17" ry="21.5"/><use href="#R" x="447.5" y="582" class="k"/></g>
<g id="n12-1"><ellipse class="B" cx="83.5" cy="634" rx="17" ry="21.5"/><use href="#L" x="83.5" y="634" class="k"/></g>
<g id="n12-2"><ellipse class="K" cx="135.5" cy="634" rx="17" ry="21.5"/><use href="#L" x="135.5" y="634" class="w"/></g>
<g id="n12-3"><ellipse class="W" cx="187.5" cy="634" rx="17" ry="21.5"/><use href="#L" x="187.5" y="634" class="k"/></g>
<g id="n12-4"><ellipse class="M" cx="239.5" cy="634" rx="17" ry="21.5"/><use href="#L" x="239.5" y="634" class="w"/></g>
<g id="n12-5"><ellipse class="K" cx="291.5" cy="634" rx="17" ry="21.5"/><use href="#L" x="291.5" y="634" class="w"/></g>
<g id="n12-6"><ellipse class="T" cx="343.5" cy="634" rx="17" ry="21.5"/><use href="#L" x="343.5" y="634" class="w"/></g>
<g id="n12-7"><ellipse class="K" cx="395.5" cy="634" rx="17" ry="21.5"/><use href="#L" x="395.5" y="634" class="w"/></g>
<g id="n12-8"><ellipse class="B" cx="447.5" cy="634" rx="17" ry="21.5"/><use href="#L" x="447.5" y="634" class="k"/></g>
<g id="n13-1"><ellipse class="B" cx="83.5" cy="686" rx="17" ry="21.5"/><use href="#R" x="83.5" y="686" class="k"/></g>
<g id="n13-2"><ellipse class="K" cx="135.5" cy="686" rx="17" ry="21.5"/><use href="#R" x="135.5" y="686" class="w"/></g>
<g id="n13-3"><ellipse class="M" cx="187.5" cy="686" rx="17" ry="21.5"/><use href="#R" x="187.5" y="686" class="w"/></g>
<g id="n13-4"><ellipse class="M" cx="239.5" cy="686" rx="17" ry="21.5"/><use href="#R" x="239.5" y="686" class="w"/></g>
<g id="n13-5"><ellipse class="K" cx="291.5" cy="686" rx="17" ry="21.5"/><use href="#R" x="291.5" y="686" class="w"/></g>
<g id="n13-6"><ellipse class="K" cx="343.5" cy="686" rx="17" ry="21.5"/><use href="#R" x="343.5" y="686" class="w"/></g>
<g id="n13-7"><ellipse class="K" cx="395.5" cy="686" rx="17" ry="21.5"/><use href="#R" x="395.5" y="686" class="w"/></g>
<g id="n13-8"><ellipse class="B" cx="447.5" cy="686" rx="17" ry="21.5"/><use href="#R" x="447.5" y="686" class="k"/></g>
<g id="n14-1"><ellipse class="B" cx="83.5" cy="738" rx="17" ry="21.5"/><use href="#L" x="83.5" y="738" class="k"/></g>
<g id="n14-2"><ellipse class="K" cx="135.5" cy="738" rx="17" ry="21.5"/><use href="#L" x="135.5" y="738" class="w"/></g>
<g id="n14-3"><ellipse class="T" cx="187.5" cy="738" rx="17" ry="21.5"/><use href="#L" x="187.5" y="738" class="w"/></g>
<g id="n14-4"><ellipse class="M" cx="239.5" cy="738" rx="17" ry="21.5"/><use href="#L" x="239.5" y="738" class="w"/></g>
<g id="n14-5"><ellipse class="D" cx="291.5" cy="738" rx="17" ry="21.5"/><use href="#L" x="291.5" y="738" class="w"/></g>
<g id="n14-6"><ellipse class="K" cx="343.5" cy="738" rx="17" ry="21.5"/><use href="#L" x="343.5" y="738" class="w"/></g>
<g id="n14-7"><ellipse class="B" cx="395.5" cy="738" rx="17" ry="21.5"/><use href="#L" x="395.5" y="738" class="k"/></g>
<g id="n14-8"><ellipse class="B" cx="447.5" cy="738" rx="17" ry="21.5"/><use href="#L" x="447.5" y="738" class="k"/></g>
<g id="n15-1"><ellipse class="B" cx="83.5" cy="790" rx="17" ry="21.5"/><use href="#R" x="83.5" y="790" class="k"/></g>
<g id="n15-2"><ellipse class="K" cx="135.5" cy="790" rx="17" ry="21.5"/><use href="#R" x="135.5" y="790" class="w"/></g>
<g id="n15-3"><ellipse class="M" cx="187.5" cy="790" rx="17" ry="21.5"/><use href="#R" x="187.5" y="790" class="w"/></g>
<g id="n15-4"><ellipse class="K" cx="239.5" cy="790" rx="17" ry="21.5"/><use href="#R" x="239.5" y="790" class="w"/></g>
<g id="n15-5"><ellipse class="M" cx="291.5" cy="790" rx="17" ry="21.5"/><use href="#R" x="291.5" y="790" class="w"/></g>
<g id="n15-6"><ellipse class="K" cx="343.5" cy="790" rx="17" ry="21.5"/><use href="#R" x="343.5" y="790" class="w"/></g>
<g id="n15-7"><ellipse class="B" cx="395.5" cy="790" rx="17" ry="21.5"/><use href="#R" x="395.5" y="790" class="k"/></g>
<g id="n15-8"><ellipse class="B" cx="447.5" cy="790" rx="17" ry="21.5"/><use href="#R" x="447.5" y="790" class="k"/></g>
<g id="n16-1"><ellipse class="B" cx="83.5" cy="842" rx="17" ry="21.5"/><use href="#L" x="83.5" y="842" class="k"/></g>
<g id="n16-2"><ellipse class="K" cx="135.5" cy="842" rx="17" ry="21.5"/><use href="#L" x="135.5" y="842" class="w"/></g>
<g id="n16-3"><ellipse class="M" cx="187.5" cy="842" rx="17" ry="21.5"/><use href="#L" x="187.5" y="842" class="w"/></g>
<g id="n16-4"><ellipse class="K" cx="239.5" cy="842" rx="17" ry="21.5"/><use href="#L" x="239.5" y="842" class="w"/></g>
<g id="n16-5"><ellipse class="M" cx="291.5" cy="842" rx="17" ry="21.5"/><use href="#L" x="291.5" y="842" class="w"/></g>
<g id="n16-6"><ellipse class="K" cx="343.5" cy="842" rx="17" ry="21.5"/><use href="#L" x="343.5" y="842" class="w"/></g>
<g id="n16-7"><ellipse class="B" cx="395.5" cy="842" rx="17" ry="21.5"/><use href="#L" x="395.5" y="842" class="k"/></g>
<g id="n16-8"><ellipse class="B" cx="447.5" cy="842" rx="17" ry="21.5"/><use href="#L" x="447.5" y="842" class="k"/></g>
<g id="n17-1"><ellipse class="B" cx="83.5" cy="894" rx="17" ry="21.5"/><use href="#R" x="83.5" y="894" class="k"/></g>
<g id="n17-2"><ellipse class="K" cx="135.5" cy="894" rx="17" ry="21.5"/><use href="#R" x="135.5" y="894" class="w"/></g>
<g id="n17-3"><ellipse class="M" cx="187.5" cy="894" rx="17" ry="21.5"/><use href="#R" x="187.5" y="894" class="w"/></g>
<g id="n17-4"><ellipse class="K" cx="239.5" cy="894" rx="17" ry="21.5"/><use href="#R" x="239.5" y="894" class="w"/></g>
<g id="n17-5"><ellipse class="T" cx="291.5" cy="894" rx="17" ry="21.5"/><use href="#R" x="291.5" y="894" class="w"/></g>
<g id="n17-6"><ellipse class="K" cx="343.5" cy="894" rx="17" ry="21.5"/><use href="#R" x="343.5" y="894" class="w"/></g>
<g id="n17-7"><ellipse class="B" cx="395.5" cy="894" rx="17" ry="21.5"/><use href="#R" x="395.5" y="894" class="k"/></g>
<g id="n17-8"><ellipse class="B" cx="447.5" cy="894" rx="17" ry="21.5"/><use href="#R" x="447.5" y="894" class="k"/></g>
<g id="n18-1"><ellipse class="B" cx="83.5" cy="946" rx="17" ry="21.5"/><use href="#L" x="83.5" y="946" class="k"/></g>
<g id="n18-2"><ellipse class="K" cx="135.5" cy="946" rx="17" ry="21.5"/><use href="#L" x="135.5" y="946" class="w"/></g>
<g id="n18-3"><ellipse class="K" cx="187.5" cy="946" rx="17" ry="21.5"/><use href="#L" x="187.5" y="946" class="w"/></g>
<g id="n18-4"><ellipse class="D" cx="239.5" cy="946" rx="17" ry="21.5"/><use href="#L" x="239.5" y="946" class="w"/></g>
<g id="n18-5"><ellipse class="T" cx="291.5" cy="946" rx="17" ry="21.5"/><use href="#L" x="291.5" y="946" class="w"/></g>
<g id="n18-6"><ellipse class="K" cx="343.5" cy="946" rx="17" ry="21.5"/><use href="#L" x="343.5" y="946" class="w"/></g>
<g id="n18-7"><ellipse class="B" cx="395.5" cy="946" rx="17" ry="21.5"/><use href="#L" x="395.5" y="946" class="k"/></g>
<g id="n18-8"><ellipse class="B" cx="447.5" cy="946" rx="17" ry="21.5"/><use href="#L" x="447.5" y="946" class="k"/></g>
<g id="n19-1"><ellipse class="B" cx="83.5" cy="998" rx="17" ry="21.5"/><use href="#R" x="83.5" y="998" class="k"/></g>
<g id="n19-2"><ellipse class="K" cx="135.5" cy="998" rx="17" ry="21.5"/><use href="#R" x="135.5" y="998" class="w"/></g>
<g id="n19-3"><ellipse class="M" cx="187.5" cy="998" rx="17" ry="21.5"/><use href="#R" x="187.5" y="998" class="w"/></g>
<g id="n19-4"><ellipse class="D" cx="239.5" cy="998" rx="17" ry="21.5"/><use href="#R" x="239.5" y="998" class="w"/></g>
<g id="n19-5"><ellipse class="M" cx="291.5" cy="998" rx="17" ry="21.5"/><use href="#R" x="291.5" y="998" class="w"/></g>
<g id="n19-6"><ellipse class="K" cx="343.5" cy="998" rx="17" ry="21.5"/><use href="#R" x="343.5" y="998" class="w"/></g>
<g id="n19-7"><ellipse class="B" cx="395.5" cy="998" rx="17" ry="21.5"/><use href="#R" x="395.5" y="998" class="k"/></g>
<g id="n19-8"><ellipse class="B" cx="447.5" cy="998" rx="17" ry="21.5"/><use href="#R" x="447.5" y="998" class="k"/></g>
<g id="n20-1"><ellipse class="B" cx="83.5" cy="1050" rx="17" ry="21.5"/><use href="#L" x="83.5" y="1050" class="k"/></g>
<g id="n20-2"><ellipse class="K" cx="135.5" cy="1050" rx="17" ry="21.5"/><use href="#L" x="135.5" y="1050" class="w"/></g>
<g id="n20-3"><ellipse class="T" cx="187.5" cy="1050" rx="17" ry="21.5"/><use href="#L" x="187.5" y="1050" class="w"/></g>
<g id="n20-4"><ellipse class="M" cx="239.5" cy="1050" rx="17" ry="21.5"/><use href="#L" x="239.5" y="1050" class="w"/></g>
<g id="n20-5"><ellipse class="M" cx="291.5" cy="1050" rx="17" ry="21.5"/><use href="#L" x="291.5" y="1050" class="w"/></g>
<g id="n20-6"><ellipse class="K" cx="343.5" cy="1050" rx="17" ry="21.5"/><use href="#L" x="343.5" y="1050" class="w"/></g>
<g id="n20-7"><ellipse class="B" cx="395.5" cy="1050" rx="17" ry="21.5"/><use href="#L" x="395.5" y="1050" class="k"/></g>
<g id="n20-8"><ellipse class="B" cx="447.5" cy="1050" rx="17" ry="21.5"/><use href="#L" x="447.5" y="1050" class="k"/></g>
<g id="n21-1"><ellipse class="B" cx="83.5" cy="1102" rx="17" ry="21.5"/><use href="#R" x="83.5" y="1102" class="k"/></g>
<g id="n21-2"><ellipse class="K" cx="135.5" cy="1102" rx="17" ry="21.5"/><use href="#R" x="135.5" y="1102" class="w"/></g>
<g id="n21-3"><ellipse class="M" cx="187.5" cy="1102" rx="17" ry="21.5"/><use href="#R" x="187.5" y="1102" class="w"/></g>
<g id="n21-4"><ellipse class="M" cx="239.5" cy="1102" rx="17" ry="21.5"/><use href="#R" x="239.5" y="1102" class="w"/></g>
<g id="n21-5"><ellipse class="D" cx="291.5" cy="1102" rx="17" ry="21.5"/><use href="#R" x="291.5" y="1102" class="w"/></g>
<g id="n21-6"><ellipse class="K" cx="343.5" cy="1102" rx="17" ry="21.5"/><use href="#R" x="343.5" y="1102" class="w"/></g>
<g id="n21-7"><ellipse class="B" cx="395.5" cy="1102" rx="17" ry="21.5"/><use href="#R" x="395.5" y="1102" class="k"/></g>
<g id="n21-8"><ellipse class="B" cx="447.5" cy="1102" rx="17" ry="21.5"/><use href="#R" x="447.5" y="1102" class="k"/></g>
<g id="n22-1"><ellipse class="B" cx="83.5" cy="1154" rx="17" ry="21.5"/><use href="#L" x="83.5" y="1154" class="k"/></g>
<g id="n22-2"><ellipse class="K" cx="135.5" cy="1154" rx="17" ry="21.5"/><use href="#L" x="135.5" y="1154" class="w"/></g>
<g id="n22-3"><ellipse class="M" cx="187.5" cy="1154" rx="17" ry="21.5"/><use href="#L" x="187.5" y="1154" class="w"/></g>
<g id="n22-4"><ellipse class="D" cx="239.5" cy="1154" rx="17" ry="21.5"/><use href="#L" x="239.5" y="1154" class="w"/></g>
<g id="n22-5"><ellipse class="D" cx="291.5" cy="1154" rx="17" ry="21.5"/><use href="#L" x="291.5" y="1154" class="w"/></g>
<g id="n22-6"><ellipse class="K" cx="343.5" cy="1154" rx="17" ry="21.5"/><use href="#L" x="343.5" y="1154" class="w"/></g>
<g id="n22-7"><ellipse class="B" cx="395.5" cy="1154" rx="17" ry="21.5"/><use href="#L" x="395.5" y="1154" class="k"/></g>
<g id="n22-8"><ellipse class="B" cx="447.5" cy="1154" rx="17" ry="21.5"/><use href="#L" x="447.5" y="1154" class="k"/></g>
<g id="n23-1"><ellipse class="B" cx="83.5" cy="1206" rx="17" ry="21.5"/><use href="#R" x="83.5" y="1206" class="k"/></g>
<g id="n23-2"><ellipse class="K" cx="135.5" cy="1206" rx="17" ry="21.5"/><use href="#R" x="135.5" y="1206" class="w"/></g>
<g id="n23-3"><ellipse class="T" cx="187.5" cy="1206" rx="17" ry="21.5"/><use href="#R" x="187.5" y="1206" class="w"/></g>
<g id="n23-4"><ellipse class="D" cx="239.5" cy="1206" rx="17" ry="21.5"/><use href="#R" x="239.5" y="1206" class="w"/></g>
<g id="n23-5"><ellipse class="D" cx="291.5" cy="1206" rx="17" ry="21.5"/><use href="#R" x="291.5" y="1206" class="w"/></g>
<g id="n23-6"><ellipse class="K" cx="343.5" cy="1206" rx="17" ry="21.5"/><use href="#R" x="343.5" y="1206" class="w"/></g>
<g id="n23-7"><ellipse class="B" cx="395.5" cy="1206" rx="17" ry="21.5"/><use href="#R" x="395.5" y="1206" class="k"/></g>
<g id="n23-8"><ellipse class="B" cx="447.5" cy="1206" rx="17" ry="21.5"/><use href="#R" x="447.5" y="1206" class="k"/></g>
<g id="n24-1"><ellipse class="B" cx="83.5" cy="1258" rx="17" ry="21.5"/><use href="#L" x="83.5" y="1258" class="k"/></g>
<g id="n24-2"><ellipse class="K" cx="135.5" cy="1258" rx="17" ry="21.5"/><use href="#L" x="135.5" y="1258" class="w"/></g>
<g id="n24-3"><ellipse class="M" cx="187.5" cy="1258" rx="17" ry="21.5"/><use href="#L" x="187.5" y="1258" class="w"/></g>
<g id="n24-4"><ellipse class="M" cx="239.5" cy="1258" rx="17" ry="21.5"/><use href="#L" x="239.5" y="1258" class="w"/></g>
<g id="n24-5"><ellipse class="M" cx="291.5" cy="1258" rx="17" ry="21.5"/><use href="#L" x="291.5" y="1258" class="w"/></g>
<g id="n24-6"><ellipse class="K" cx="343.5" cy="1258" rx="17" ry="21.5"/><use href="#L" x="343.5" y="1258" class="w"/></g>
<g id="n24-7"><ellipse class="B" cx="395.5" cy="1258" rx="17" ry="21.5"/><use href="#L" x="395.5" y="1258" class="k"/></g>
<g id="n24-8"><ellipse class="B" cx="447.5" cy="1258" rx="17" ry="21.5"/><use href="#L" x="447.5" y="1258" class="k"/></g>
<g id="n25-1"><ellipse class="B" cx="83.5" cy="1310" rx="17" ry="21.5"/><use href="#R" x="83.5" y="1310" class="k"/></g>
<g id="n25-2"><ellipse class="K" cx="135.5" cy="1310" rx="17" ry="21.5"/><use href="#R" x="135.5" y="1310" class="w"/></g>
<g id="n25-3"><ellipse class="W" cx="187.5" cy="1310" rx="17" ry="21.5"/><use href="#R" x="187.5" y="1310" class="k"/></g>
<g id="n25-4"><ellipse class="K" cx="239.5" cy="1310" rx="17" ry="21.5"/><use href="#R" x="239.5" y="1310" class="w"/></g>
<g id="n25-5"><ellipse class="T" cx="291.5" cy="1310" rx="17" ry="21.5"/><use href="#R" x="291.5" y="1310" class="w"/></g>
<g id="n25-6"><ellipse class="K" cx="343.5" cy="1310" rx="17" ry="21.5"/><use href="#R" x="343.5" y="1310" class="w"/></g>
<g id="n25-7"><ellipse class="B" cx="395.5" cy="1310" rx="17" ry="21.5"/><use href="#R" x="395.5" y="1310" class="k"/></g>
<g id="n25-8"><ellipse class="B" cx="447.5" cy="1310" rx="17" ry="21.5"/><use href="#R" x="447.5" y="1310" class="k"/></g>
<g id="n26-1"><ellipse class="B" cx="83.5" cy="1362" rx="17" ry="21.5"/><use href="#L" x="83.5" y="1362" class="k"/></g>
<g id="n26-2"><ellipse class="K" cx="135.5" cy="1362" rx="17" ry="21.5"/><use href="#L" x="135.5" y="1362" class="w"/></g>
<g id="n26-3"><ellipse class="W" cx="187.5" cy="1362" rx="17" ry="21.5"/><use href="#L" x="187.5" y="1362" class="k"/></g>
<g id="n26-4"><ellipse class="K" cx="239.5" cy="1362" rx="17" ry="21.5"/><use href="#L" x="239.5" y="1362" class="w"/></g>
<g id="n26-5"><ellipse class="K" cx="291.5" cy="1362" rx="17" ry="21.5"/><use href="#L" x="291.5" y="1362" class="w"/></g>
<g id="n26-6"><ellipse class="K" cx="343.5" cy="1362" rx="17" ry="21.5"/><use href="#L" x="343.5" y="1362" class="w"/></g>
<g id="n26-7"><ellipse class="B" cx="395.5" cy="1362" rx="17" ry="21.5"/><use href="#L" x="395.5" y="1362" class="k"/></g>
<g id="n26-8"><ellipse class="B" cx="447.5" cy="1362" rx="17" ry="21.5"/><use href="#L" x="447.5" y="1362" class="k"/></g>
<g id="n27-1"><ellipse class="B" cx="83.5" cy="1414" rx="17" ry="21.5"/><use href="#R" x="83.5" y="1414" class="k"/></g>
<g id="n27-2"><ellipse class="K" cx="135.5" cy="1414" rx="17" ry="21.5"/><use href="#R" x="135.5" y="1414" class="w"/></g>
<g id="n27-3"><ellipse class="W" cx="187.5" cy="1414" rx="17" ry="21.5"/><use href="#R" x="187.5" y="1414" class="k"/></g>
<g id="n27-4"><ellipse class="K" cx="239.5" cy="1414" rx="17" ry="21.5"/><use href="#R" x="239.5" y="1414" class="w"/></g>
<g id="n27-5"><ellipse class="B" cx="291.5" cy="1414" rx="17" ry="21.5"/><use href="#R" x="291.5" y="1414" class="k"/></g>
<g id="n27-6"><ellipse class="K" cx="343.5" cy="1414" rx="17" ry="21.5"/><use href="#R" x="343.5" y="1414" class="w"/></g>
<g id="n27-7"><ellipse class="B" cx="395.5" cy="1414" rx="17" ry="21.5"/><use href="#R" x="395.5" y="1414" class="k"/></g>
<g id="n27-8"><ellipse class="B" cx="447.5" cy="1414" rx="17" ry="21.5"/><use href="#R" x="447.5" y="1414" class="k"/></g>
<g id="n28-1"><ellipse class="B" cx="83.5" cy="1466" rx="17" ry="21.5"/><use href="#L" x="83.5" y="1466" class="k"/></g>
<g id="n28-2"><ellipse class="K" cx="135.5" cy="1466" rx="17" ry="21.5"/><use href="#L" x="135.5" y="1466" class="w"/></g>
<g id="n28-3"><ellipse class="K" cx="187.5" cy="1466" rx="17" ry="21.5"/><use href="#L" x="187.5" y="1466" class="w"/></g>
<g id="n28-4"><ellipse class="B" cx="239.5" cy="1466" rx="17" ry="21.5"/><use href="#L" x="239.5" y="1466" class="k"/></g>
<g id="n28-5"><ellipse class="B" cx="291.5" cy="1466" rx="17" ry="21.5"/><use href="#L" x="291.5" y="1466" class="k"/></g>
<g id="n28-6"><ellipse class="B" cx="343.5" cy="1466" rx="17" ry="21.5"/><use href="#L" x="343.5" y="1466" class="k"/></g>
<g id="n28-7"><ellipse class="K" cx="395.5" cy="1466" rx="17" ry="21.5"/><use href="#L" x="395.5" y="1466" class="w"/></g>
<g id="n28-8"><ellipse class="B" cx="447.5" cy="1466" rx="17" ry="21.5"/><use href="#L" x="447.5" y="1466" class="k"/></g>
<g id="n29-1"><ellipse class="B" cx="83.5" cy="1518" rx="17" ry="21.5"/><use href="#R" x="83.5" y="1518" class="k"/></g>
<g id="n29-2"><ellipse class="B" cx="135.5" cy="1518" rx="17" ry="21.5"/><use href="#R" x="135.5" y="1518" class="k"/></g>
<g id="n29-3"><ellipse class="B" cx="187.5" cy="1518" rx="17" ry="21.5"/><use href="#R" x="187.5" y="1518" class="k"/></g>
<g id="n29-4"><ellipse class="B" cx="239.5" cy="1518" rx="17" ry="21.5"/><use href="#R" x="239.5" y="1518" class="k"/></g>
<g id="n29-5"><ellipse class="B" cx="291.5" cy="1518" rx="17" ry="21.5"/><use href="#R" x="291.5" y="1518" class="k"/></g>
<g id="n29-6"><ellipse class="B" cx="343.5" cy="1518" rx="17" ry="21.5"/><use href="#R" x="343.5" y="1518" class="k"/></g>
<g id="n29-7"><ellipse class="B" cx="395.5" cy="1518" rx="17" ry="21.5"/><use href="#R" x="395.5" y="1518" class="k"/></g>
<g id="n29-8"><ellipse class="B" cx="447.5" cy="1518" rx="17" ry="21.5"/><use href="#R" x="447.5" y="1518" class="k"/></g>
<g id="n30-1"><ellipse class="B" cx="83.5" cy="1570" rx="17" ry="21.5"/><use href="#L" x="83.5" y="1570" class="k"/></g>
<g id="n30-2"><ellipse class="B" cx="135.5" cy="1570" rx="17" ry="21.5"/><use href="#L" x="135.5" y="1570" class="k"/></g>
<g id="n30-3"><ellipse class="B" cx="187.5" cy="1570" rx="17" ry="21.5"/><use href="#L" x="187.5" y="1570" class="k"/></g>
<g id="n30-4"><ellipse class="B" cx="239.5" cy="1570" rx="17" ry="21.5"/><use href="#L" x="239.5" y="1570" class="k"/></g>
<g id="n30-5"><ellipse class="B" cx="291.5" cy="1570" rx="17" ry="21.5"/><use href="#L" x="291.5" y="1570" class="k"/></g>
<g id="n30-6"><ellipse class="B" cx="343.5" cy="1570" rx="17" ry="21.5"/><use href="#L" x="343.5" y="1570" class="k"/></g>
<g id="n30-7"><ellipse class="B" cx="395.5" cy="1570" rx="17" ry="21.5"/><use href="#L" x="395.5" y="1570" class="k"/></g>
<g id="n30-8"><ellipse class="B" cx="447.5" cy="1570" rx="17" ry="21.5"/><use href="#L" x="447.5" y="1570" class="k"/></g>
<g id="n31-1"><ellipse class="B" cx="83.5" cy="1622" rx="17" ry="21.5"/><use href="#R" x="83.5" y="1622" class="k"/></g>
<g id="n31-2"><ellipse class="B" cx="135.5" cy="1622" rx="17" ry="21.5"/><use href="#R" x="135.5" y="1622" class="k"/></g>
<g id="n31-3"><ellipse class="B" cx="187.5" cy="1622" rx="17" ry="21.5"/><use href="#R" x="187.5" y="1622" class="k"/></g>
<g id="n31-4"><ellipse class="B" cx="239.5" cy="1622" rx="17" ry="21.5"/><use href="#R" x="239.5" y="1622" class="k"/></g>
<g id="n31-5"><ellipse class="B" cx="291.5" cy="1622" rx="17" ry="21.5"/><use href="#R" x="291.5" y="1622" class="k"/></g>
<g id="n31-6"><ellipse class="B" cx="343.5" cy="1622" rx="17" ry="21.5"/><use href="#R" x="343.5" y="1622" class="k"/></g>
<g id="n31-7"><ellipse class="B" cx="395.5" cy="1622" rx="17" ry="21.5"/><use href="#R" x="395.5" y="1622" class="k"/></g>
<g id="n31-8"><ellipse class="B" cx="447.5" cy="1622" rx="17" ry="21.5"/><use href="#R" x="447.5" y="1622" class="k"/></g>
</g>

<g id="watermark">
<text x="266" y="873" text-anchor="middle" font-size="15" font-weight="bold" fill="#3a3a3a" stroke="#fff" stroke-opacity="0.8" stroke-width="3" paint-order="stroke" textLength="154" lengthAdjust="spacingAndGlyphs">BRACELETBOOK.COM</text>
</g>
</svg>
